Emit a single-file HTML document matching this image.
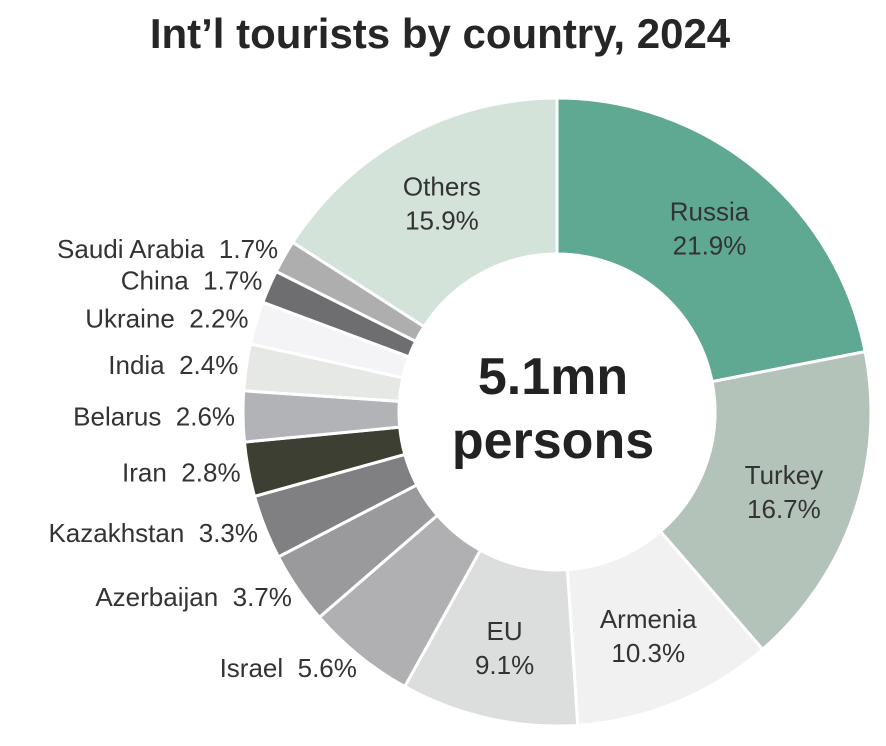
<!DOCTYPE html>
<html><head><meta charset="utf-8"><style>
body{margin:0;background:#fff;}
svg{display:block;font-family:"Liberation Sans",Arial,sans-serif;}
</style></head><body>
<svg id="chart" width="886" height="746">
<text x="440" y="48" text-anchor="middle" font-size="42" font-weight="bold" fill="#262626">Int’l tourists by country, 2024</text>
<text x="553" y="394" text-anchor="middle" font-size="52" font-weight="bold" fill="#222">5.1mn</text>
<text x="553" y="458" text-anchor="middle" font-size="52" font-weight="bold" fill="#222">persons</text>
</svg>
<script>
const categories=["Russia","Turkey","Armenia","EU","Israel","Azerbaijan","Kazakhstan","Iran","Belarus","India","Ukraine","China","Saudi Arabia","Others"];
const shares=[21.9,16.7,10.3,9.1,5.6,3.7,3.3,2.8,2.6,2.4,2.2,1.7,1.7,15.9];
const colors=["#5fa892","#b4c3b9","#f1f1f2","#dcdddd","#b0b0b3","#9a9a9c","#808083","#3e3f33","#b2b3b6","#e6e8e5","#f4f4f6","#6e6e70","#aeaeae","#d3e3da"];
const inside=[true,true,true,true,false,false,false,false,false,false,false,false,false,true];
const svg=document.getElementById('chart');
const NS='http://www.w3.org/2000/svg';
const cx=557,cy=412,R=314,r0=158;
const total=shares.reduce((a,b)=>a+b,0);
function ang(v){return (-90+360*v/total)*Math.PI/180;}
function pt(a,r){return [cx+r*Math.cos(a),cy+r*Math.sin(a)];}
let cum=0;
const g=document.createElementNS(NS,'g');
svg.insertBefore(g,svg.children[1]);
shares.forEach((v,i)=>{
  const a0=ang(cum),a1=ang(cum+v),am=ang(cum+v/2);cum+=v;
  const [x0,y0]=pt(a0,R),[x1,y1]=pt(a1,R),[x2,y2]=pt(a1,r0),[x3,y3]=pt(a0,r0);
  const large=(a1-a0)>Math.PI?1:0;
  const p=document.createElementNS(NS,'path');
  p.setAttribute('d',`M${x0},${y0}A${R},${R} 0 ${large} 1 ${x1},${y1}L${x2},${y2}A${r0},${r0} 0 ${large} 0 ${x3},${y3}Z`);
  p.setAttribute('fill',colors[i]);p.setAttribute('stroke','#fff');p.setAttribute('stroke-width','3');
  
  
  g.appendChild(p);
  const t=document.createElementNS(NS,'text');
  t.setAttribute('font-size','26');t.setAttribute('fill','#333');
  
  
  if(inside[i]){
    const [lx,ly]=pt(am,240);
    t.setAttribute('text-anchor','middle');
    const s1=document.createElementNS(NS,'tspan');s1.setAttribute('x',lx);s1.setAttribute('y',ly-6);s1.textContent=categories[i];
    const s2=document.createElementNS(NS,'tspan');s2.setAttribute('x',lx);s2.setAttribute('y',ly+28);s2.textContent=shares[i].toFixed(1)+'%';
    t.appendChild(s1);t.appendChild(s2);
  } else {
    const [lx,ly]=pt(am,330);
    t.setAttribute('x',lx+8);t.setAttribute('y',ly+9);t.setAttribute('text-anchor','end');
    t.setAttribute('xml:space','preserve');t.style.whiteSpace='pre';
    t.textContent=categories[i]+'  '+shares[i].toFixed(1)+'%';
  }
  svg.appendChild(t);
});
</script>
</body></html>
